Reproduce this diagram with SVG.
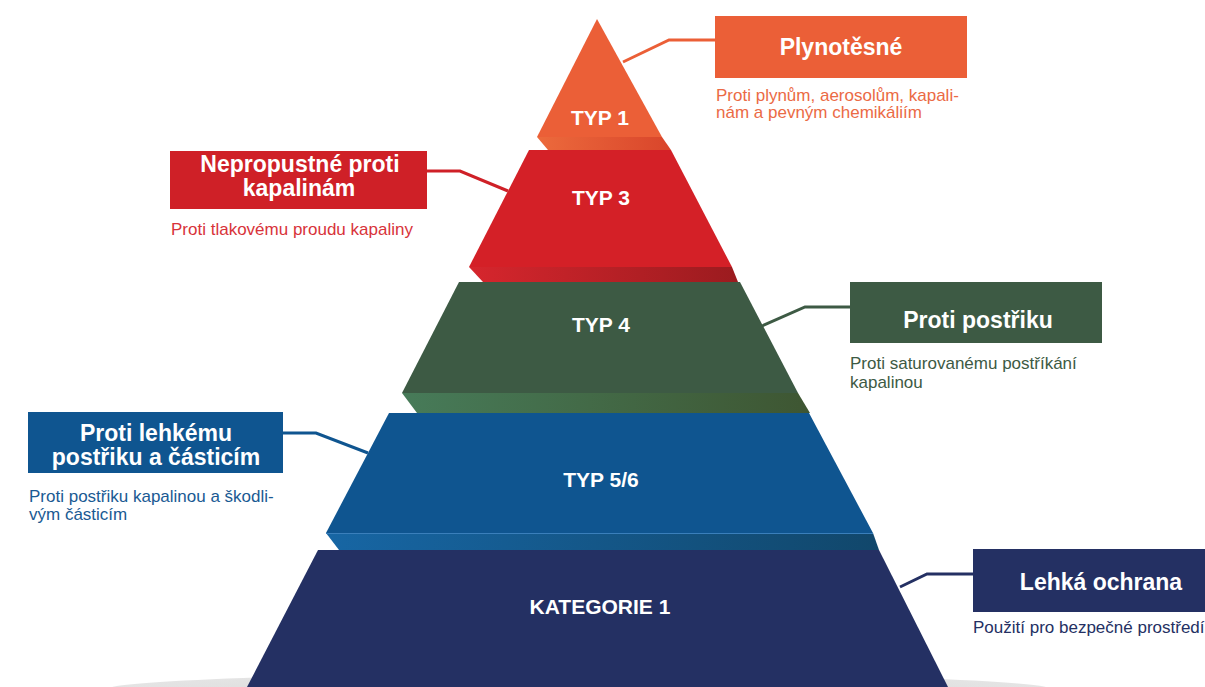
<svg xmlns="http://www.w3.org/2000/svg" width="1205" height="687" viewBox="0 0 1205 687">
  <defs>
    <linearGradient id="gOrange" x1="0" y1="0" x2="1" y2="0"><stop offset="0" stop-color="#ec6a3c"/><stop offset="1" stop-color="#d9452b"/></linearGradient>
    <linearGradient id="gRed" x1="0" y1="0" x2="1" y2="0"><stop offset="0" stop-color="#d6262d"/><stop offset="1" stop-color="#9b1b1f"/></linearGradient>
    <linearGradient id="gGreen" x1="0" y1="0" x2="1" y2="0"><stop offset="0" stop-color="#477b59"/><stop offset="1" stop-color="#3e5632"/></linearGradient>
    <linearGradient id="gBlue" x1="0" y1="0" x2="1" y2="0"><stop offset="0" stop-color="#1766a4"/><stop offset="1" stop-color="#11476b"/></linearGradient>
    <radialGradient id="gShadow" cx="0.5" cy="0.5" r="0.5"><stop offset="0" stop-color="#d8d8d8"/><stop offset="1" stop-color="#e4e4e4"/></radialGradient>
  </defs>
  <style>
    .lvl { font-family: "Liberation Sans", Arial, sans-serif; font-weight: bold; font-size: 21px; fill: #ffffff; text-anchor: middle; }
    .ttl { font-family: "Liberation Sans", Arial, sans-serif; font-weight: bold; font-size: 23px; fill: #ffffff; text-anchor: middle; }
    .sub { font-family: "Liberation Sans", Arial, sans-serif; font-size: 17px; }
    .con { fill: none; stroke-width: 3; stroke-linejoin: miter; }
  </style>
  <rect width="1205" height="687" fill="#ffffff"/>
  <ellipse cx="579" cy="690" rx="475" ry="17" fill="url(#gShadow)"/>

  <g id="pyramid">
    <g id="typ1">
      <polygon points="537,137 662,137 671,150 548,150" fill="url(#gOrange)"/>
      <polygon points="597,19 662,137 537,137" fill="#eb5f37"/>
      <text class="lvl" x="600" y="125">TYP 1</text>
    </g>
    <g id="typ3">
      <polygon points="469,267 732,267 738,282 483,282" fill="url(#gRed)"/>
      <polygon points="529,150 671,150 732,267 469,267" fill="#d42027"/>
      <text class="lvl" x="601" y="205">TYP 3</text>
    </g>
    <g id="typ4">
      <polygon points="402,393 798,393 810,413 417,413" fill="url(#gGreen)"/>
      <polygon points="459,282 740,282 798,393 402,393" fill="#3d5a44"/>
      <text class="lvl" x="601" y="332">TYP 4</text>
    </g>
    <g id="typ56">
      <polygon points="326,533 873,533 879,550 339,550" fill="url(#gBlue)"/>
      <line x1="326" y1="533.5" x2="873" y2="533.5" stroke="#3a7fbb" stroke-width="1"/>
      <polygon points="389,413 809,413 873,533 326,533" fill="#0f5590"/>
      <text class="lvl" x="601" y="487">TYP 5/6</text>
    </g>
    <g id="kat1">
      <polygon points="318,550 879,550 948,687 247,687" fill="#243063"/>
      <text class="lvl" x="600" y="614">KATEGORIE 1</text>
    </g>
  </g>

  <g id="connectors">
    <polyline class="con" points="623,62 669,40 716,40" stroke="#eb5f37"/>
    <polyline class="con" points="426,171 460,171 508,191" stroke="#cf2027"/>
    <polyline class="con" points="762,326 805,307 851,307" stroke="#3d5a44"/>
    <polyline class="con" points="282,433 316,433 368,453" stroke="#0f5590"/>
    <polyline class="con" points="900,587 927,574 974,574" stroke="#243063"/>
  </g>

  <g id="label-plynotesne">
    <rect x="715" y="16" width="252" height="62" fill="#eb5f37"/>
    <text class="ttl" x="841" y="55">Plynotěsné</text>
    <text class="sub" fill="#eb6a45"><tspan x="716" y="101">Proti plynům, aerosolům, kapali-</tspan><tspan x="716" y="118">nám a pevným chemikáliím</tspan></text>
  </g>
  <g id="label-nepropustne">
    <rect x="170" y="151" width="257" height="58" fill="#cf2027"/>
    <text class="ttl" x="300" y="172">Nepropustné proti</text>
    <text class="ttl" x="299" y="196">kapalinám</text>
    <text class="sub" fill="#d8333a" x="171" y="235">Proti tlakovému proudu kapaliny</text>
  </g>
  <g id="label-postriku">
    <rect x="850" y="282" width="252" height="61" fill="#3d5a44"/>
    <text class="ttl" x="978" y="328">Proti postřiku</text>
    <text class="sub" fill="#3d5a44"><tspan x="850" y="369">Proti saturovanému postříkání</tspan><tspan x="850" y="388">kapalinou</tspan></text>
  </g>
  <g id="label-lehkemu">
    <rect x="28" y="412" width="255" height="61" fill="#0f5590"/>
    <text class="ttl" x="156" y="441">Proti lehkému</text>
    <text class="ttl" x="156" y="465">postřiku a částicím</text>
    <text class="sub" fill="#1a5a93" x="29" y="502">Proti postřiku kapalinou a škodli-</text>
    <text class="sub" fill="#1a5a93" x="29" y="520">vým částicím</text>
  </g>
  <g id="label-lehka">
    <rect x="973" y="549" width="260" height="63" fill="#243063"/>
    <text class="ttl" x="1101" y="590">Lehká ochrana</text>
    <text class="sub" fill="#243063" x="973" y="633">Použití pro bezpečné prostředí</text>
  </g>
</svg>
